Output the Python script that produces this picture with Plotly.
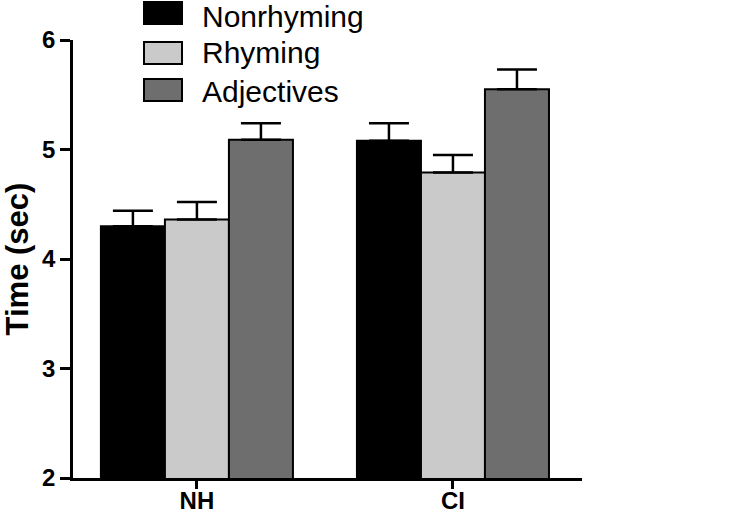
import plotly.graph_objects as go

groups = ["NH", "CI"]
series_names = ["Nonrhyming", "Rhyming", "Adjectives"]
nonrhyming = [4.30, 5.08]
rhyming = [4.36, 4.79]
adjectives = [5.09, 5.55]
nonrhyming_err = [0.14, 0.16]
rhyming_err = [0.16, 0.16]
adjectives_err = [0.15, 0.18]
colors = ["#000000", "#cacaca", "#6e6e6e"]
y_ticks = [2, 3, 4, 5, 6]

W, H = 734, 518
L, R, T, B = 73, 582, 40, 478
FONT = "Liberation Sans, Arial, sans-serif"

def px(x):
    return (x - L) / (R - L)

def py(y):
    return (B - y) / (B - T)

fig = go.Figure()
vals = [nonrhyming, rhyming, adjectives]
errs = [nonrhyming_err, rhyming_err, adjectives_err]
for name, v, e, c in zip(series_names, vals, errs, colors):
    fig.add_trace(go.Bar(
        x=groups, y=v, name=name,
        marker=dict(color=c, line=dict(color="black", width=2)),
        error_y=dict(type="data", array=e, arrayminus=[0] * len(e), symmetric=False,
                     color="black", thickness=2.5, width=20),
        showlegend=False,
    ))

fig.update_layout(
    width=W, height=H,
    margin=dict(l=L, r=W - R, t=T, b=H - B, autoexpand=False),
    paper_bgcolor="white", plot_bgcolor="white",
    barmode="group", bargap=0.25, bargroupgap=0,
    font=dict(family=FONT, color="black"),
    xaxis=dict(range=[-0.484, 1.504], showline=True, linecolor="black", linewidth=2.5,
               ticks="outside", ticklen=8, tickwidth=2.5, tickcolor="black", automargin=False,
               ticklabelstandoff=-9,
               tickfont=dict(size=24, family=FONT, weight="bold"), showgrid=False),
    yaxis=dict(range=[2, 6], tickvals=y_ticks, showline=True, linecolor="black", linewidth=2.5,
               ticks="outside", ticklen=10, tickwidth=2.5, tickcolor="black", automargin=False,
               tickfont=dict(size=24, family=FONT, weight="bold"), showgrid=False, zeroline=False,
               title=dict(text="Time (sec)", font=dict(size=31, family=FONT, weight="bold"), standoff=21)),
)

box_rows = [(2, 24), (42, 64), (79, 101)]
text_y = [16, 53, 91]
for name, c, (y0, y1), ty in zip(series_names, colors, box_rows, text_y):
    fig.add_shape(type="rect", xref="paper", yref="paper",
                  x0=px(144), x1=px(182), y0=py(y1), y1=py(y0),
                  fillcolor=c, line=dict(color="black", width=2))
    fig.add_annotation(xref="paper", yref="paper", x=px(200), y=py(ty),
                       xanchor="left", yanchor="middle", showarrow=False,
                       text=name, font=dict(size=30, family=FONT, color="black"))

fig.write_html("out.html", config={"displayModeBar": False},
               post_script="document.body.style.margin='0';document.body.style.overflow='hidden';")
